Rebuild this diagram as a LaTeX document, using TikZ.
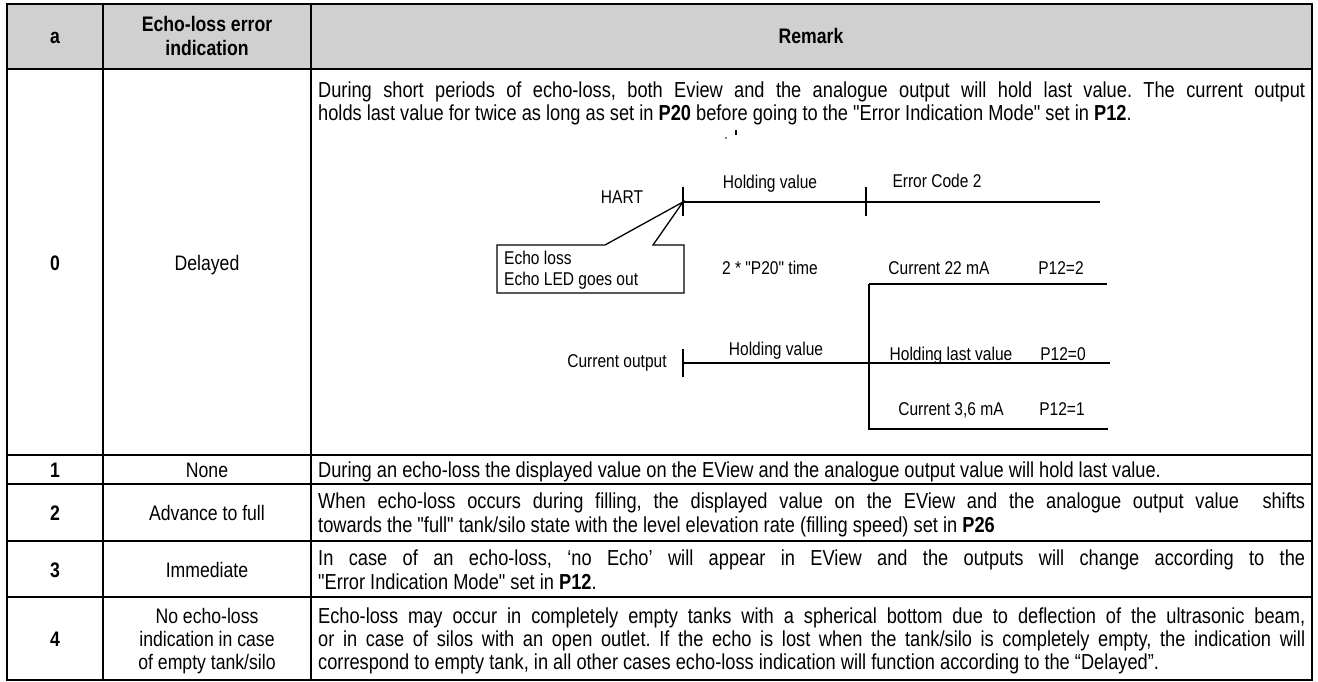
\documentclass[tikz,border=0pt]{standalone}
\usepackage{fontspec}
\setmainfont{Liberation Sans}[FakeStretch=0.84,Ligatures=TeXOff]
\definecolor{hdr}{RGB}{208,208,208}
\begin{document}
\frenchspacing
\begin{tikzpicture}[x=1pt,y=-1pt,
  tbl/.style={line width=2.2pt},
  dl/.style={line width=1.3pt},
  body/.style={font=\fontsize{21.7}{24}\selectfont, inner sep=0pt, anchor=base west},
  cell/.style={font=\fontsize{21}{24}\selectfont, inner sep=0pt, anchor=base},
  dtx/.style={font=\fontsize{18.5}{21}\selectfont, inner sep=0pt, anchor=base},
  dtxl/.style={font=\fontsize{18.5}{21}\selectfont, inner sep=0pt, anchor=base west}]
\useasboundingbox (0,0) rectangle (1318,682);
% table
\fill[hdr] (7,4) rectangle (1312,69);
\draw[tbl] (7,4) rectangle (1312,680);
\foreach \yy in {69,455,484,541,597} \draw[tbl] (7,\yy) -- (1312,\yy);
\draw[tbl] (103,4) -- (103,680);
\draw[tbl] (311,4) -- (311,680);
% header
\node[cell] (ha) at (55,44) {\bfseries a};
\node[cell] (hb1) at (207,32) {\bfseries Echo-loss error};
\node[cell] (hb2) at (207,56) {\bfseries indication};
\node[cell] (hc) at (811,44) {\bfseries Remark};
% row 0
\node[cell] (a0) at (55,270) {\bfseries 0};
\node[cell] (b0) at (207,270) {Delayed};
\node[body] (r0a) at (318,98) {\makebox[987pt][s]{During short periods of echo-loss, both Eview and the analogue output will hold last value. The current output}};
\node[body] (r0b) at (318,121) {holds last value for twice as long as set in \textbf{P20} before going to the "Error Indication Mode" set in \textbf{P12}.};
% artifacts
\fill (726,138) circle (0.9);
\draw[line width=1.2pt] (736,130) -- (736,135);
% diagram
\coordinate (t1) at (683,202);
\coordinate (t2) at (866,202);
\coordinate (hend) at (1100,202);
\draw[dl] (t1) -- (hend);
\draw[dl] (683,187) -- (683,216);
\draw[dl] (866,187) -- (866,216);
\node[dtx] (hart) at (622,204) {HART};
\node[dtx] (hv1) at (770,189) {Holding value};
\node[dtx] (ec2) at (937,187) {Error Code 2};
\draw[dl] (497,245) -- (605,245) -- (t1) -- (653,245) -- (684,245) -- (684,293) -- (497,293) -- cycle;
\node[dtxl] (el1) at (504,264) {Echo loss};
\node[dtxl] (el2) at (504,285) {Echo LED goes out};
\node[dtx] (p20) at (770,274) {2 * "P20" time};
\node[dtx] (c22) at (939,274) {Current 22 mA};
\node[dtx] (p2) at (1061,274) {P12=2};
\coordinate (v1) at (869,284);
\coordinate (v2) at (869,429);
\draw[dl] (v1) -- (1107,284);
\draw[dl] (v1) -- (v2) -- (1108,429);
\draw[dl] (683,363) -- (1110,363);
\draw[dl] (683,349) -- (683,377);
\node[dtx] (co) at (617,367) {Current output};
\node[dtx] (hv2) at (776,355) {Holding value};
\node[dtx] (hlv) at (951,360) {Holding last value};
\node[dtx] (p0) at (1063,360) {P12=0};
\node[dtx] (c36) at (951,415) {Current 3,6 mA};
\node[dtx] (p1) at (1062,415) {P12=1};
% row 1
\node[cell] (a1) at (55,477) {\bfseries 1};
\node[cell] (b1) at (207,477) {None};
\node[body] (r1) at (318,477) {During an echo-loss the displayed value on the EView and the analogue output value will hold last value.};
% row 2
\node[cell] (a2) at (55,520) {\bfseries 2};
\node[cell] (b2) at (207,520) {Advance to full};
\node[body] (r2a) at (318,508.5) {\makebox[987pt][s]{When echo-loss occurs during filling, the displayed value on the EView and the analogue output value\ \ shifts}};
\node[body] (r2b) at (318,532) {towards the "full" tank/silo state with the level elevation rate (filling speed) set in \textbf{P26}};
% row 3
\node[cell] (a3) at (55,577) {\bfseries 3};
\node[cell] (b3) at (207,577) {Immediate};
\node[body] (r3a) at (318,565) {\makebox[987pt][s]{In case of an echo-loss, ‘no Echo’ will appear in EView and the outputs will change according to the}};
\node[body] (r3b) at (318,589) {"Error Indication Mode" set in \textbf{P12}.};
% row 4
\node[cell] (a4) at (55,646) {\bfseries 4};
\node[cell] (b4a) at (207,623) {No echo-loss};
\node[cell] (b4b) at (207,646) {indication in case};
\node[cell] (b4c) at (207,669) {of empty tank/silo};
\node[body] (r4a) at (318,623) {\makebox[987pt][s]{Echo-loss may occur in completely empty tanks with a spherical bottom due to deflection of the ultrasonic beam,}};
\node[body] (r4b) at (318,646) {\makebox[987pt][s]{or in case of silos with an open outlet. If the echo is lost when the tank/silo is completely empty, the indication will}};
\node[body] (r4c) at (318,669) {correspond to empty tank, in all other cases echo-loss indication will function according to the “Delayed”.};
\end{tikzpicture}
\end{document}
